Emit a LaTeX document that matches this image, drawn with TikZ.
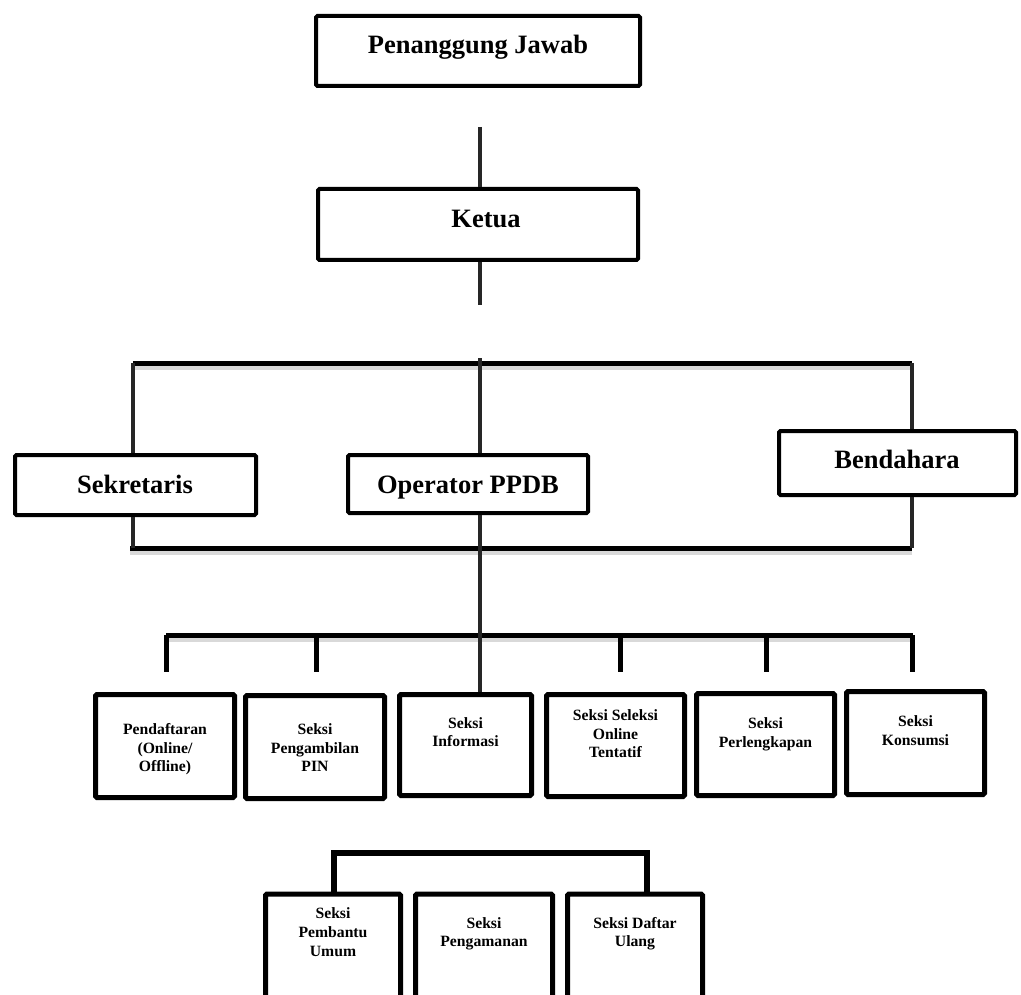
\documentclass[tikz,border=0pt]{standalone}
\usepackage{fontspec}
\setmainfont{Liberation Serif}
\usetikzlibrary{positioning}

\begin{document}
\begin{tikzpicture}[x=1pt, y=-1pt,
    unitbox/.style={draw=black, line width=4pt, rounded corners=1.5pt, fill=white, inner sep=0pt},
    seksibox/.style={unitbox, line width=5pt},
    bigtext/.style={font=\fontsize{26.5}{30}\selectfont\bfseries, inner sep=0pt},
    smalltext/.style={font=\fontsize{15.7}{18.7}\selectfont\bfseries, align=center, inner sep=0pt},
    link/.style={line width=3.5pt, black!85},
    bar/.style={line width=5pt, black},
    barshadow/.style={line width=5pt, black!15}]
    \clip (0,0) rectangle (1021,995);

    % Top: Penanggung Jawab and Ketua
    \node[unitbox, minimum width=324, minimum height=70] (pj) at (478,51) {};
    \node[bigtext] (pjT) at (478,46.8) {Penanggung Jawab};
    \node[unitbox, minimum width=320, minimum height=71] (ketua) at (478,224.5) {};
    \node[bigtext] (ketuaT) at (486,219.2) {Ketua};

    \coordinate (pjlink) at (480,127);
    \coordinate (ketualink) at (480,305);
    \draw[link] (pjlink) -- (pjlink |- ketua.north);
    \draw[link] (pjlink |- ketua.south) -- (ketualink);

    % Second row: Sekretaris, Operator PPDB, Bendahara
    \node[unitbox, minimum width=241, minimum height=60] (sek) at (135.5,485) {};
    \node[bigtext] (sekT) at (135,484) {Sekretaris};
    \node[unitbox, minimum width=240, minimum height=58] (op) at (468,484) {};
    \node[bigtext] (opT) at (468,488) {Operator PPDB};
    \node[unitbox, minimum width=237, minimum height=64] (bend) at (897.5,463) {};
    \node[bigtext] (bendT) at (897,459) {Bendahara};

    \coordinate (topL) at (133,363);
    \coordinate (topM) at (480,358);
    \coordinate (topR) at (912,363);
    \coordinate (botL) at (130,548);
    \coordinate (botR) at (912,548);

    % Bars with their soft shadow
    \draw[barshadow] ([yshift=-4pt]topL) -- ([yshift=-4pt]topR);
    \draw[barshadow] ([yshift=-4pt]botL) -- ([yshift=-4pt]botR);
    \draw[bar] (topL) -- (topR);
    \draw[bar] (botL) -- (botR);

    \draw[link] (topL) -- (topL |- sek.north);
    \draw[link] (topM) -- (topM |- op.north);
    \draw[link] (topR) -- (topR |- bend.north);
    \draw[link] (topL |- sek.south) -- (topL |- botL);
    \draw[link] (topR |- bend.south) -- (botR);

    % Third row: the six sections
    \node[seksibox, minimum width=139, minimum height=103] (pend) at (165,746) {};
    \node[smalltext] (pendT) at (165,749.4) {Pendaftaran\\(Online/\\Offline)};
    \node[seksibox, minimum width=139, minimum height=103] (pin) at (315,747) {};
    \node[smalltext] (pinT) at (315,747.7) {Seksi\\Pengambilan\\PIN};
    \node[seksibox, minimum width=132, minimum height=101] (info) at (465.5,745) {};
    \node[smalltext] (infoT) at (465.5,732.2) {Seksi\\Informasi};
    \node[seksibox, minimum width=138, minimum height=102] (sel) at (615.5,745.5) {};
    \node[smalltext] (selT) at (615.5,733.7) {Seksi Seleksi\\Online\\Tentatif};
    \node[seksibox, minimum width=138, minimum height=102] (perl) at (765.5,744.5) {};
    \node[smalltext] (perlT) at (765.5,734.3) {Seksi\\Perlengkapan};
    \node[seksibox, minimum width=138, minimum height=103] (kons) at (915.5,743) {};
    \node[smalltext] (konsT) at (915.5,730.7) {Seksi\\Konsumsi};

    \coordinate (rowL) at (166,635);
    \coordinate (rowR) at (913,635);
    \draw[barshadow] ([yshift=-4pt]rowL) -- ([yshift=-4pt]rowR);
    \draw[bar] (rowL) -- (rowR);
    \draw[link] (topM |- op.south) -- (topM |- info.north);
    \foreach \n/\dx in {pend/1, pin/1, sel/4.5, perl/0.5, kons/-3.5}
        \draw[bar] ([xshift=\dx pt]\n.north |- rowL) -- ++(0,37);

    % Bottom row: three more sections
    \node[seksibox, minimum width=135, minimum height=116] (pb) at (333,952) {};
    \node[smalltext] (pbT) at (333,932.2) {Seksi\\Pembantu\\Umum};
    \node[seksibox, minimum width=137, minimum height=116] (aman) at (484,952) {};
    \node[smalltext] (amanT) at (484,933.7) {Seksi\\Pengamanan};
    \node[seksibox, minimum width=135, minimum height=116] (da) at (635,952) {};
    \node[smalltext] (daT) at (635,933.7) {Seksi Daftar\\Ulang};

    \coordinate (lowL) at (334,853);
    \coordinate (lowR) at (647,853);
    \draw[bar, line width=6pt] (lowL |- pb.north) -- (lowL) -- (lowR) -- (lowR |- da.north);
\end{tikzpicture}
\end{document}
